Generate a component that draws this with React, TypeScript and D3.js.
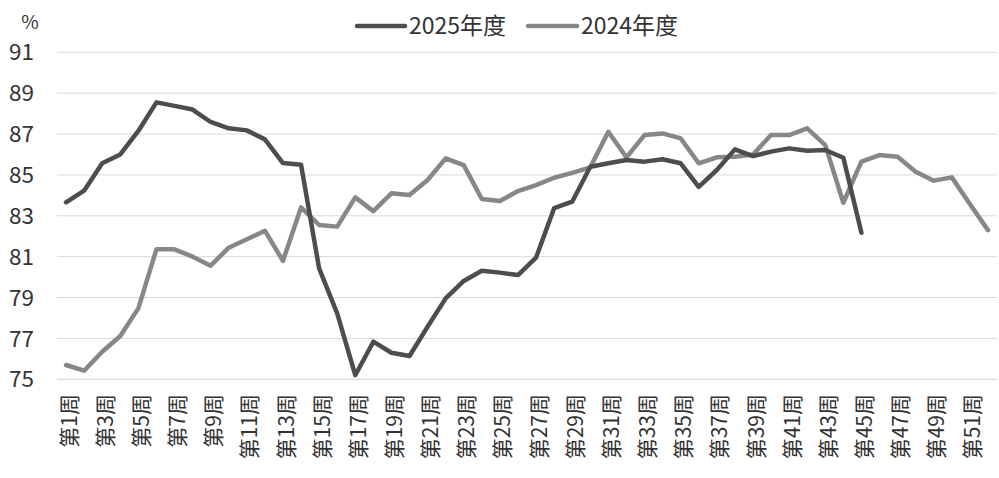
import React from "react";
import * as d3 from "d3";

const weeks: string[] = Array.from({ length: 52 }, (_, i) => `第${i + 1}周`);

const series2025: number[] = [
  83.66, 84.23, 85.57, 86.0, 87.15, 88.55, 88.38, 88.2, 87.59, 87.28,
  87.18, 86.74, 85.58, 85.5, 80.43, 78.23, 75.2, 76.84, 76.3, 76.14,
  77.57, 78.96, 79.81, 80.31, 80.22, 80.1, 80.95, 83.37, 83.69, 85.4,
  85.57, 85.73, 85.65, 85.77, 85.57, 84.42, 85.24, 86.25, 85.92, 86.14,
  86.3, 86.18, 86.22, 85.84, 82.17,
];

const series2024: number[] = [
  75.7, 75.42, 76.35, 77.12, 78.47, 81.36, 81.36, 81.0, 80.56, 81.44,
  81.85, 82.27, 80.79, 83.41, 82.55, 82.47, 83.9, 83.23, 84.1, 84.02,
  84.75, 85.81, 85.48, 83.82, 83.72, 84.21, 84.5, 84.86, 85.1, 85.37,
  87.11, 85.86, 86.95, 87.03, 86.79, 85.57, 85.86, 85.89, 86.0, 86.95,
  86.95, 87.28, 86.46, 83.64, 85.65, 85.97, 85.89, 85.16, 84.72, 84.88,
  83.58, 82.3,
];

const yTicks: number[] = [75, 77, 79, 81, 83, 85, 87, 89, 91];

const seriesNames: string[] = ["2025年度", "2024年度"];
const seriesColors: string[] = ["#4d4d4d", "#878787"];

const FONT = "'Noto Sans CJK SC', 'Noto Sans', sans-serif";

export default function App() {
  const width = 999;
  const height = 478;

  const x = d3.scaleBand<string>().domain(weeks).range([57, 997]).padding(0);
  const y = d3.scaleLinear().domain([75, 91]).range([379.3, 52.3]);
  const cx = (w: string) => (x(w) as number) + x.bandwidth() / 2;

  const line = d3
    .line<number>()
    .x((_, i) => cx(weeks[i]))
    .y((d) => y(d));

  const data = [series2025, series2024];

  const legendItems = [
    { lx1: 357, lx2: 405, tx: 409 },
    { lx1: 528, lx2: 577, tx: 581 },
  ];

  return (
    <svg
      width={width}
      height={height}
      style={{ position: "fixed", left: 0, top: 0, display: "block", background: "#fff" }}
      fontFamily={FONT}
    >
      {yTicks.map((t) => (
        <line
          key={t}
          x1={57}
          x2={997}
          y1={y(t)}
          y2={y(t)}
          stroke={t === 75 ? "#d0d0d0" : "#d9d9d9"}
          strokeWidth={1}
        />
      ))}
      {yTicks.map((t) => (
        <text
          key={"l" + t}
          x={34}
          y={y(t)}
          dy="0.36em"
          textAnchor="end"
          fontSize={22.5}
          fill="#333"
        >
          {t}
        </text>
      ))}
      <text x={30} y={22} dy="0.36em" textAnchor="middle" fontSize={19} fill="#333">
        %
      </text>
      {weeks
        .filter((_, i) => i % 2 === 0)
        .map((w) => (
          <text
            key={w}
            transform={`translate(${cx(w) + 3},${394}) rotate(-90)`}
            dy="0.36em"
            textAnchor="end"
            fontSize={21}
            fill="#333"
          >
            {w}
          </text>
        ))}
      {[1, 0].map((si) => (
        <path
          key={si}
          d={line(data[si]) || ""}
          fill="none"
          stroke={seriesColors[si]}
          strokeWidth={4.5}
          strokeLinejoin="round"
          strokeLinecap="round"
        />
      ))}
      {seriesNames.map((n, i) => (
        <g key={n}>
          <line
            x1={legendItems[i].lx1}
            x2={legendItems[i].lx2}
            y1={26}
            y2={26}
            stroke={seriesColors[i]}
            strokeWidth={4.5}
            strokeLinecap="round"
          />
          <text
            x={legendItems[i].tx}
            y={26}
            dy="0.36em"
            fontSize={23}
            fill="#333"
          >
            {n}
          </text>
        </g>
      ))}
    </svg>
  );
}
